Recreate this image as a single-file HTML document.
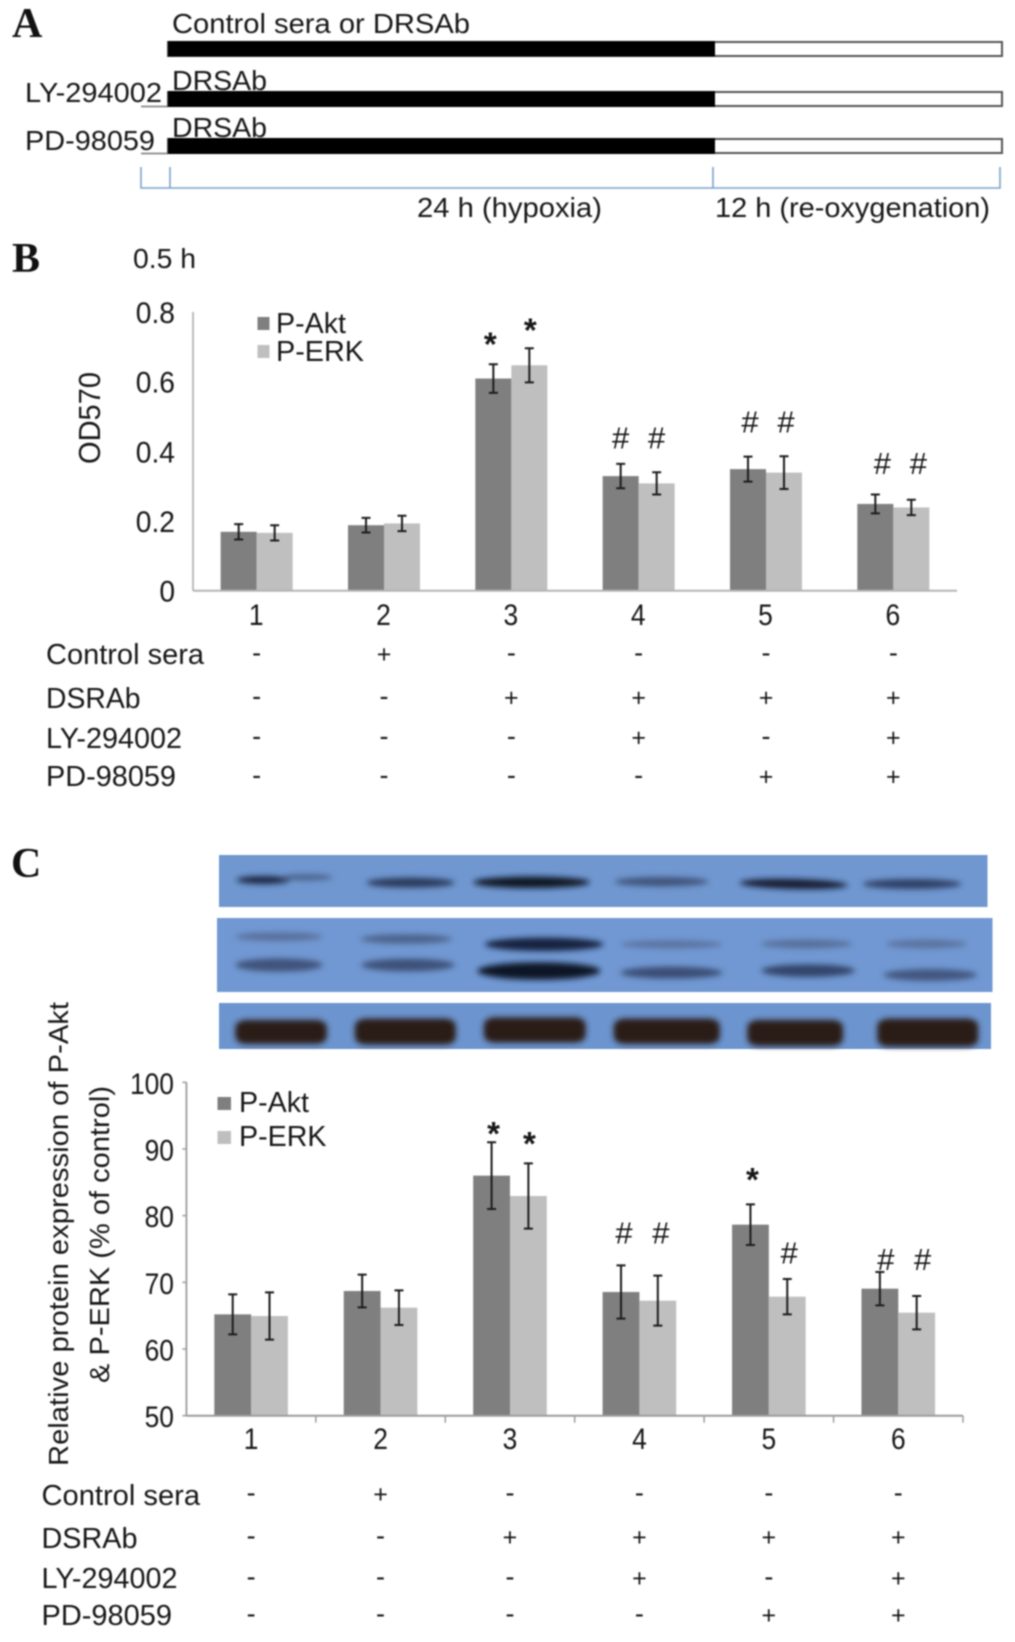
<!DOCTYPE html>
<html lang="en">
<head>
<meta charset="utf-8">
<title>Panels A, B and C: P-Akt and P-ERK expression</title>
<style>
  html, body { margin: 0; padding: 0; background: #fff; }
  svg { display: block; filter: blur(0.75px); }
  text { font-family: "Liberation Sans", sans-serif; fill: #171717; }
  .panel-letter { font-family: "Liberation Serif", serif; font-weight: bold; font-size: 42px; fill: #111; }
</style>
</head>
<body>
<svg id="figure" xmlns="http://www.w3.org/2000/svg" width="1015" height="1642" viewBox="0 0 1015 1642">
  <defs>
    <filter id="soft" x="-10%" y="-30%" width="120%" height="160%"><feGaussianBlur stdDeviation="3"></feGaussianBlur></filter>
    <filter id="softer" x="-10%" y="-30%" width="120%" height="160%"><feGaussianBlur stdDeviation="3"></feGaussianBlur></filter>
  </defs>

  <!-- Panel A -->
  <g>
    <text class="panel-letter" x="12" y="37">A</text>
    <text x="172" y="33" font-size="28" textLength="298" lengthAdjust="spacingAndGlyphs">Control sera or DRSAb</text>
    <rect x="168" y="42" width="834" height="14" fill="#fff" stroke="#555" stroke-width="2"></rect>
    <rect x="168" y="41" width="547" height="15.5" fill="#000"></rect>

    <text x="25" y="102" font-size="28" textLength="137" lengthAdjust="spacingAndGlyphs">LY-294002</text>
    <text x="172" y="90" font-size="28" textLength="95" lengthAdjust="spacingAndGlyphs">DRSAb</text>
    <line x1="141" y1="106.5" x2="168" y2="106.5" stroke="#777" stroke-width="1.6"></line>
    <rect x="168" y="92" width="834" height="14" fill="#fff" stroke="#555" stroke-width="2"></rect>
    <rect x="168" y="91" width="547" height="16" fill="#000"></rect>

    <text x="25" y="150" font-size="28" textLength="130" lengthAdjust="spacingAndGlyphs">PD-98059</text>
    <text x="172" y="137" font-size="28" textLength="95" lengthAdjust="spacingAndGlyphs">DRSAb</text>
    <line x1="141" y1="153.5" x2="168" y2="153.5" stroke="#777" stroke-width="1.6"></line>
    <rect x="168" y="139" width="834" height="14" fill="#fff" stroke="#555" stroke-width="2"></rect>
    <rect x="168" y="138" width="547" height="16" fill="#000"></rect>

    <path d="M141 167V188H1000V167M170 167V188M713 167V188" fill="none" stroke="#7aa3cc" stroke-width="1.6"></path>
    <text x="417" y="217" font-size="28" textLength="185" lengthAdjust="spacingAndGlyphs">24 h (hypoxia)</text>
    <text x="715" y="217" font-size="28" textLength="275" lengthAdjust="spacingAndGlyphs">12 h (re-oxygenation)</text>
  </g>

  <!-- Panel B static text -->
  <g>
    <text class="panel-letter" x="12" y="272">B</text>
    <text x="133" y="268" font-size="28" textLength="63" lengthAdjust="spacingAndGlyphs">0.5 h</text>
    <text transform="translate(100,464) rotate(-90)" font-size="31" textLength="92" lengthAdjust="spacingAndGlyphs">OD570</text>
    <rect x="257.5" y="317" width="12" height="13" fill="#7f7f7f"></rect>
    <text x="276" y="333" font-size="28.5" textLength="70" lengthAdjust="spacingAndGlyphs">P-Akt</text>
    <rect x="257.5" y="345" width="12" height="13" fill="#bfbfbf"></rect>
    <text x="276" y="361" font-size="28.5" textLength="88" lengthAdjust="spacingAndGlyphs">P-ERK</text>
    <text x="46" y="664" font-size="28.5" textLength="158" lengthAdjust="spacingAndGlyphs">Control sera</text>
    <text x="46" y="708" font-size="28.5" textLength="94.5" lengthAdjust="spacingAndGlyphs">DSRAb</text>
    <text x="46" y="748" font-size="28.5" textLength="136" lengthAdjust="spacingAndGlyphs">LY-294002</text>
    <text x="46" y="786" font-size="28.5" textLength="130" lengthAdjust="spacingAndGlyphs">PD-98059</text>
  </g>

  <!-- Panel C blots -->
  <g>
    <text class="panel-letter" x="11" y="877">C</text>
    <rect x="219" y="855" width="768.5" height="52" fill="#7097d0"></rect>
    <rect x="217" y="918" width="775.5" height="74" fill="#7198d2"></rect>
    <rect x="219" y="1003" width="772" height="46" fill="#6c94ce"></rect>
    <g filter="url(#softer)">
      <g transform="translate(200,840) scale(0.5198,0.3333)">
        <ellipse cx="122" cy="120" rx="52" ry="12" fill="#1a2642"></ellipse>
        <ellipse cx="205" cy="112" rx="50" ry="9" fill="#4a6088"></ellipse>
        <ellipse cx="405" cy="128" rx="85" ry="15" fill="#2a3a5c"></ellipse>
        <ellipse cx="638" cy="127" rx="112" ry="17" fill="#0c1224"></ellipse>
        <ellipse cx="888" cy="125" rx="90" ry="14" fill="#3f5379"></ellipse>
        <ellipse cx="1142" cy="132" rx="104" ry="15" fill="#141a30" transform="rotate(2 1142 132)"></ellipse>
        <ellipse cx="1370" cy="132" rx="95" ry="15" fill="#2f4065"></ellipse>
        <ellipse cx="152" cy="290" rx="84" ry="13" fill="#586f9b"></ellipse>
        <ellipse cx="397" cy="297" rx="88" ry="14" fill="#4c628a"></ellipse>
        <ellipse cx="662" cy="313" rx="114" ry="20" fill="#182240"></ellipse>
        <ellipse cx="907" cy="313" rx="98" ry="12" fill="#5a729f"></ellipse>
        <ellipse cx="1167" cy="312" rx="88" ry="13" fill="#566e9a"></ellipse>
        <ellipse cx="1397" cy="312" rx="78" ry="13" fill="#5a729f"></ellipse>
        <ellipse cx="152" cy="375" rx="84" ry="20" fill="#40537a"></ellipse>
        <ellipse cx="400" cy="375" rx="90" ry="19" fill="#3e5178"></ellipse>
        <ellipse cx="652" cy="393" rx="118" ry="26" fill="#0d1325"></ellipse>
        <ellipse cx="907" cy="398" rx="98" ry="18" fill="#3a4e76"></ellipse>
        <ellipse cx="1170" cy="392" rx="90" ry="19" fill="#33446a"></ellipse>
        <ellipse cx="1405" cy="405" rx="90" ry="18" fill="#425780"></ellipse>
      </g>
    </g>
    <g filter="url(#soft)">
      <g transform="translate(200,840) scale(0.5198,0.3333)" fill="#2a1a18" stroke="#2a1a18" stroke-width="8">
        <rect x="72" y="544" width="168" height="64" rx="18"></rect>
        <rect x="302" y="540" width="186" height="70" rx="18"></rect>
        <rect x="550" y="536" width="188" height="68" rx="18"></rect>
        <rect x="800" y="540" width="196" height="68" rx="18"></rect>
        <rect x="1057" y="544" width="176" height="70" rx="18"></rect>
        <rect x="1307" y="540" width="186" height="76" rx="18"></rect>
      </g>
    </g>
  </g>

  <!-- Panel C static text -->
  <g>
    <text transform="translate(68,1466) rotate(-90)" font-size="28" textLength="464" lengthAdjust="spacingAndGlyphs">Relative protein expression of P-Akt</text>
    <text transform="translate(109,1383) rotate(-90)" font-size="28" textLength="297" lengthAdjust="spacingAndGlyphs">&amp; P-ERK (% of control)</text>
    <rect x="217.5" y="1097" width="13.5" height="13" fill="#7f7f7f"></rect>
    <text x="239" y="1112" font-size="28.5" textLength="70" lengthAdjust="spacingAndGlyphs">P-Akt</text>
    <rect x="217.5" y="1131" width="13.5" height="13" fill="#bfbfbf"></rect>
    <text x="239" y="1146" font-size="28.5" textLength="87.5" lengthAdjust="spacingAndGlyphs">P-ERK</text>
    <text x="41.5" y="1505" font-size="28.5" textLength="158.5" lengthAdjust="spacingAndGlyphs">Control sera</text>
    <text x="41.5" y="1548" font-size="28.5" textLength="96" lengthAdjust="spacingAndGlyphs">DSRAb</text>
    <text x="41.5" y="1588" font-size="28.5" textLength="136" lengthAdjust="spacingAndGlyphs">LY-294002</text>
    <text x="41.5" y="1625" font-size="28.5" textLength="130.5" lengthAdjust="spacingAndGlyphs">PD-98059</text>
  </g>
</svg>

<script>
// Shared categories
const groupLabels = ['1', '2', '3', '4', '5', '6'];
const treatControl = ['-', '+', '-', '-', '-', '-'];
const treatDsrab = ['-', '-', '+', '+', '+', '+'];
const treatLy = ['-', '-', '-', '+', '-', '+'];
const treatPd = ['-', '-', '-', '-', '+', '+'];

// Panel B values
const bTicks = [0, 0.2, 0.4, 0.6, 0.8];
const bTickLabels = ['0', '0.2', '0.4', '0.6', '0.8'];
const bAkt = [0.169, 0.188, 0.609, 0.329, 0.349, 0.249];
const bErk = [0.166, 0.193, 0.647, 0.308, 0.339, 0.239];
const bAktErr = [0.022, 0.021, 0.041, 0.035, 0.036, 0.027];
const bErkErr = [0.022, 0.022, 0.049, 0.032, 0.047, 0.022];
const bAktSymbols = ['', '', '*', '#', '#', '#'];
const bErkSymbols = ['', '', '*', '#', '#', '#'];
const bAktSymbolLevels = [0, 0, 0.728, 0.44, 0.486, 0.367];
const bErkSymbolLevels = [0, 0, 0.768, 0.44, 0.486, 0.367];

// Panel C values
const cTicks = [50, 60, 70, 80, 90, 100];
const cTickLabels = ['50', '60', '70', '80', '90', '100'];
const cAkt = [65.2, 68.7, 86, 68.55, 78.65, 69.05];
const cErk = [64.95, 66.2, 82.95, 67.25, 67.85, 65.45];
const cAktErr = [3, 2.45, 5, 4, 3.05, 2.5];
const cErkErr = [3.55, 2.6, 4.9, 3.75, 2.65, 2.5];
const cAktSymbols = ['', '', '*', '#', '*', '#'];
const cErkSymbols = ['', '', '*', '#', '#', '#'];
const cAktSymbolLevels = [0, 0, 93.4, 77.5, 86.5, 73.5];
const cErkSymbolLevels = [0, 0, 91.9, 77.5, 74.5, 73.5];

const NS = 'http://www.w3.org/2000/svg';
const figure = document.getElementById('figure');

function make(tag, parent, props, content) {
  const node = document.createElementNS(NS, tag);
  Object.keys(props).forEach(function (k) { node.setAttribute(k, props[k]); });
  if (content !== undefined) node.textContent = content;
  parent.appendChild(node);
  return node;
}

function squeeze(node, factor) {
  node.setAttribute('textLength', node.getComputedTextLength() * factor);
  node.setAttribute('lengthAdjust', 'spacingAndGlyphs');
}

function drawChart(o) {
  const root = make('g', figure, {});
  
  

  const yScale = function (v) {
    return o.bottom - (v - o.min) / (o.max - o.min) * (o.bottom - o.top);
  };
  const band = (o.right - o.left) / o.labels.length;
  const xCenter = function (i) { return o.left + band * (i + 0.5); };

  // Bars first, axes over them
  const series = [
    { key: 'akt', values: o.akt, err: o.aktErr, color: '#7f7f7f', side: -0.5, sym: o.aktSym, lvl: o.aktLvl },
    { key: 'erk', values: o.erk, err: o.erkErr, color: '#bfbfbf', side: 0.5, sym: o.erkSym, lvl: o.erkLvl }
  ];
  series.forEach(function (s) {
    s.values.forEach(function (v, i) {
      const cx = xCenter(i) + s.side * o.barW;
      const bar = make('rect', root, {
        x: cx - o.barW / 2, y: yScale(v), width: o.barW, height: o.bottom - yScale(v), fill: s.color
      });
      
      
    });
  });
  series.forEach(function (s) {
    s.values.forEach(function (v, i) {
      const cx = xCenter(i) + s.side * o.barW;
      const hi = yScale(v + s.err[i]);
      const lo = yScale(v - s.err[i]);
      const err = make('path', root, {
        d: 'M' + (cx - 4.5) + ' ' + hi + 'H' + (cx + 4.5) + 'M' + cx + ' ' + hi + 'V' + lo + 'M' + (cx - 4.5) + ' ' + lo + 'H' + (cx + 4.5),
        fill: 'none', stroke: '#1c1c1c', 'stroke-width': 2
      });
      
      

      if (s.sym[i]) {
        const isStar = s.sym[i] === '*';
        const size = isStar ? 33 : 31;
        const mark = make('text', root, {
          x: cx + o.symbolShift(i, s.key), y: yScale(s.lvl[i]) + (isStar ? 18.5 : 11), 'font-size': size,
          'font-weight': isStar ? 'bold' : 'normal', 'text-anchor': 'middle'
        }, s.sym[i]);
        
        
      }
    });
  });

  const yAxis = make('line', root, { x1: o.left, y1: o.top, x2: o.left, y2: o.bottom, stroke: o.axisColor, 'stroke-width': 1.8 });
  
  
  const xAxis = make('line', root, { x1: o.left, y1: o.bottom, x2: o.right, y2: o.bottom, stroke: o.axisColor, 'stroke-width': 2 });
  
  

  o.ticks.forEach(function (t, i) {
    const label = make('text', root, {
      x: o.tickRight, y: yScale(t) + o.tickDy, 'font-size': 30, 'text-anchor': 'end'
    }, o.tickLabels[i]);
    squeeze(label, o.tickSqueeze);
    
    
    if (o.tickMarks) {
      const tm = make('line', root, { x1: o.left - 4, y1: yScale(t), x2: o.left, y2: yScale(t), stroke: o.axisColor, 'stroke-width': 1.5 });
      
      
    }
  });

  o.labels.forEach(function (lab, i) {
    const label = make('text', root, {
      x: xCenter(i) + o.catShift, y: o.catBaseline, 'font-size': 30, 'text-anchor': 'middle'
    }, lab);
    squeeze(label, 0.88);
    
    
    if (o.tickMarks) {
      const tm = make('line', root, { x1: o.left + band * (i + 1), y1: o.bottom, x2: o.left + band * (i + 1), y2: o.bottom + 7, stroke: o.axisColor, 'stroke-width': 1.5 });
      
      
    }
  });

  o.rows.forEach(function (row, r) {
    row.forEach(function (sym, i) {
      const cell = make('text', root, {
        x: xCenter(i), y: o.rowCenters[r] + (sym === '+' ? 8.5 : 7.5),
        'font-size': sym === '+' ? 25 : 27, 'text-anchor': 'middle'
      }, sym);
      
      
    });
  });
}

drawChart({
  id: 'panel-b', labels: groupLabels, akt: bAkt, erk: bErk, aktErr: bAktErr, erkErr: bErkErr,
  aktSym: bAktSymbols, erkSym: bErkSymbols, aktLvl: bAktSymbolLevels, erkLvl: bErkSymbolLevels,
  ticks: bTicks, tickLabels: bTickLabels, min: 0, max: 0.8,
  left: 193, right: 957, top: 312, bottom: 590.7, barW: 36, axisColor: '#b4b4b4',
  tickRight: 175, tickDy: 11, tickSqueeze: 0.94, tickMarks: false, catBaseline: 625, catShift: -0.5,
  symbolShift: function (i, key) {
    if (i === 2) return key === 'akt' ? -3 : 1;
    if (i === 4) return 2;
    if (i === 5) return 7;
    return 0;
  },
  rows: [treatControl, treatDsrab, treatLy, treatPd], rowCenters: [654, 697.7, 737.7, 776.7]
});

drawChart({
  id: 'panel-c', labels: groupLabels, akt: cAkt, erk: cErk, aktErr: cAktErr, erkErr: cErkErr,
  aktSym: cAktSymbols, erkSym: cErkSymbols, aktLvl: cAktSymbolLevels, erkLvl: cErkSymbolLevels,
  ticks: cTicks, tickLabels: cTickLabels, min: 50, max: 100,
  left: 186.4, right: 963, top: 1082.3, bottom: 1415.7, barW: 36.8, axisColor: '#9c9c9c',
  tickRight: 174, tickDy: 11.5, tickSqueeze: 0.88, tickMarks: true, catBaseline: 1449, catShift: 0,
  symbolShift: function (i, key) {
    if (i === 2) return key === 'akt' ? 2 : 1;
    if (i === 3) return 3;
    if (i === 4) return 2;
    if (i === 5) return 6;
    return 0;
  },
  rows: [treatControl, treatDsrab, treatLy, treatPd], rowCenters: [1494, 1537, 1578, 1615]
});
</script>
</body>
</html>
